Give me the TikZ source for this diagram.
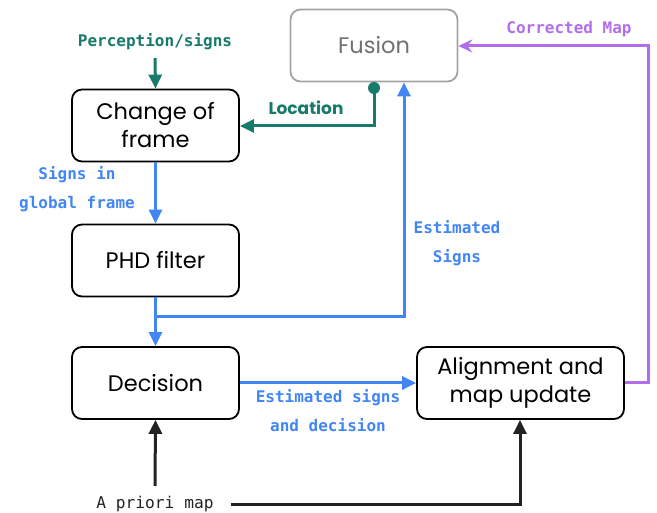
\documentclass[tikz,border=0pt]{standalone}
\usepackage{fontspec}
\setmainfont{Poppins}
\newfontfamily\monof{DejaVu Sans Mono}
\usetikzlibrary{arrows.meta}
\definecolor{cgreen}{HTML}{177A6A}
\definecolor{cblue}{HTML}{4285F4}
\definecolor{cpurple}{HTML}{B26EE8}
\definecolor{cgrey}{HTML}{A3A3A3}
\definecolor{cgreytext}{HTML}{707070}
\definecolor{cblack}{HTML}{222222}
\tikzset{
  box/.style={draw=black, line width=1.8pt, rounded corners=10pt, minimum width=167pt, minimum height=72pt, align=center, font=\fontsize{22.5}{28}\selectfont, inner sep=0pt},
  conn/.style={line width=3pt},
  tri/.style={-{Triangle[length=14pt,width=13pt]}},
  lbl/.style={font=\monof\bfseries\fontsize{16}{29}\selectfont, align=center, inner sep=0pt},
}
\begin{document}
\begin{tikzpicture}[x=1pt,y=-1pt]
\useasboundingbox (0,0) rectangle (657,513);
\node[box] (cof) at (155.5,125.5) {Change of\\frame};
\node[box, draw=cgrey, text=cgreytext] (fus) at (374,45.5) {Fusion};
\node[box] (phd) at (155.5,260.5) {PHD filter};
\node[box] (dec) at (155.5,383) {Decision};
\node[box, minimum width=207pt] (ali) at (520.5,383) {Alignment and\\map update};

\node[lbl, text=cgreen] (perc) at (155,42) {Perception/signs};
\node[font=\bfseries\fontsize{17}{20}\selectfont, inner sep=0pt, text=cgreen] (loc) at (306,108) {Location};
\node[lbl, text=cblue] (sgf) at (77,189.5) {Signs in\\global frame};
\node[lbl, text=cblue] (ests) at (457,243) {Estimated\\Signs};
\node[lbl, text=cblue] (estd) at (328,411) {Estimated signs\\and decision};
\node[lbl, text=cpurple] (corr) at (569,29) {Corrected Map};
\node[font=\monof\fontsize{16.2}{18}\selectfont, inner sep=0pt, text=cblack] (apm) at (155,504) {A priori map};

\coordinate (dotp) at (374,88);
\coordinate (locc) at (374,126);
\coordinate (br) at (155,317);
\coordinate (brr) at (404,317);
\coordinate (pr) at (648,383);
\coordinate (pt) at (648,46);
\coordinate (apmr) at (520,505);

% green
\draw[conn, cgreen, tri] (perc.south |- 0,58) -- (cof.north);
\draw[conn, cgreen, tri] (dotp) -- (locc) -- (cof.east |- locc);
\fill[cgreen] (dotp) circle (6pt);
% blue
\draw[conn, cblue, tri] (cof.south) -- (phd.north);
\draw[conn, cblue, tri] (phd.south) -- (dec.north);
\draw[conn, cblue, tri] (br) -- (brr) -- (brr |- fus.south);
\draw[conn, cblue, tri] (dec.east) -- (ali.west);
% purple
\draw[conn, cpurple, -{Stealth[length=14pt,width=13pt,inset=5pt]}] (ali.east) -- (pr) -- (pt) -- (fus.east |- pt);
% black
\draw[conn, cblack, tri] (155,486) -- (dec.south);
\draw[conn, cblack, tri] (apm.east |- apmr) ++(17,0) -- (apmr) -- (apmr |- ali.south);
\end{tikzpicture}
\end{document}
